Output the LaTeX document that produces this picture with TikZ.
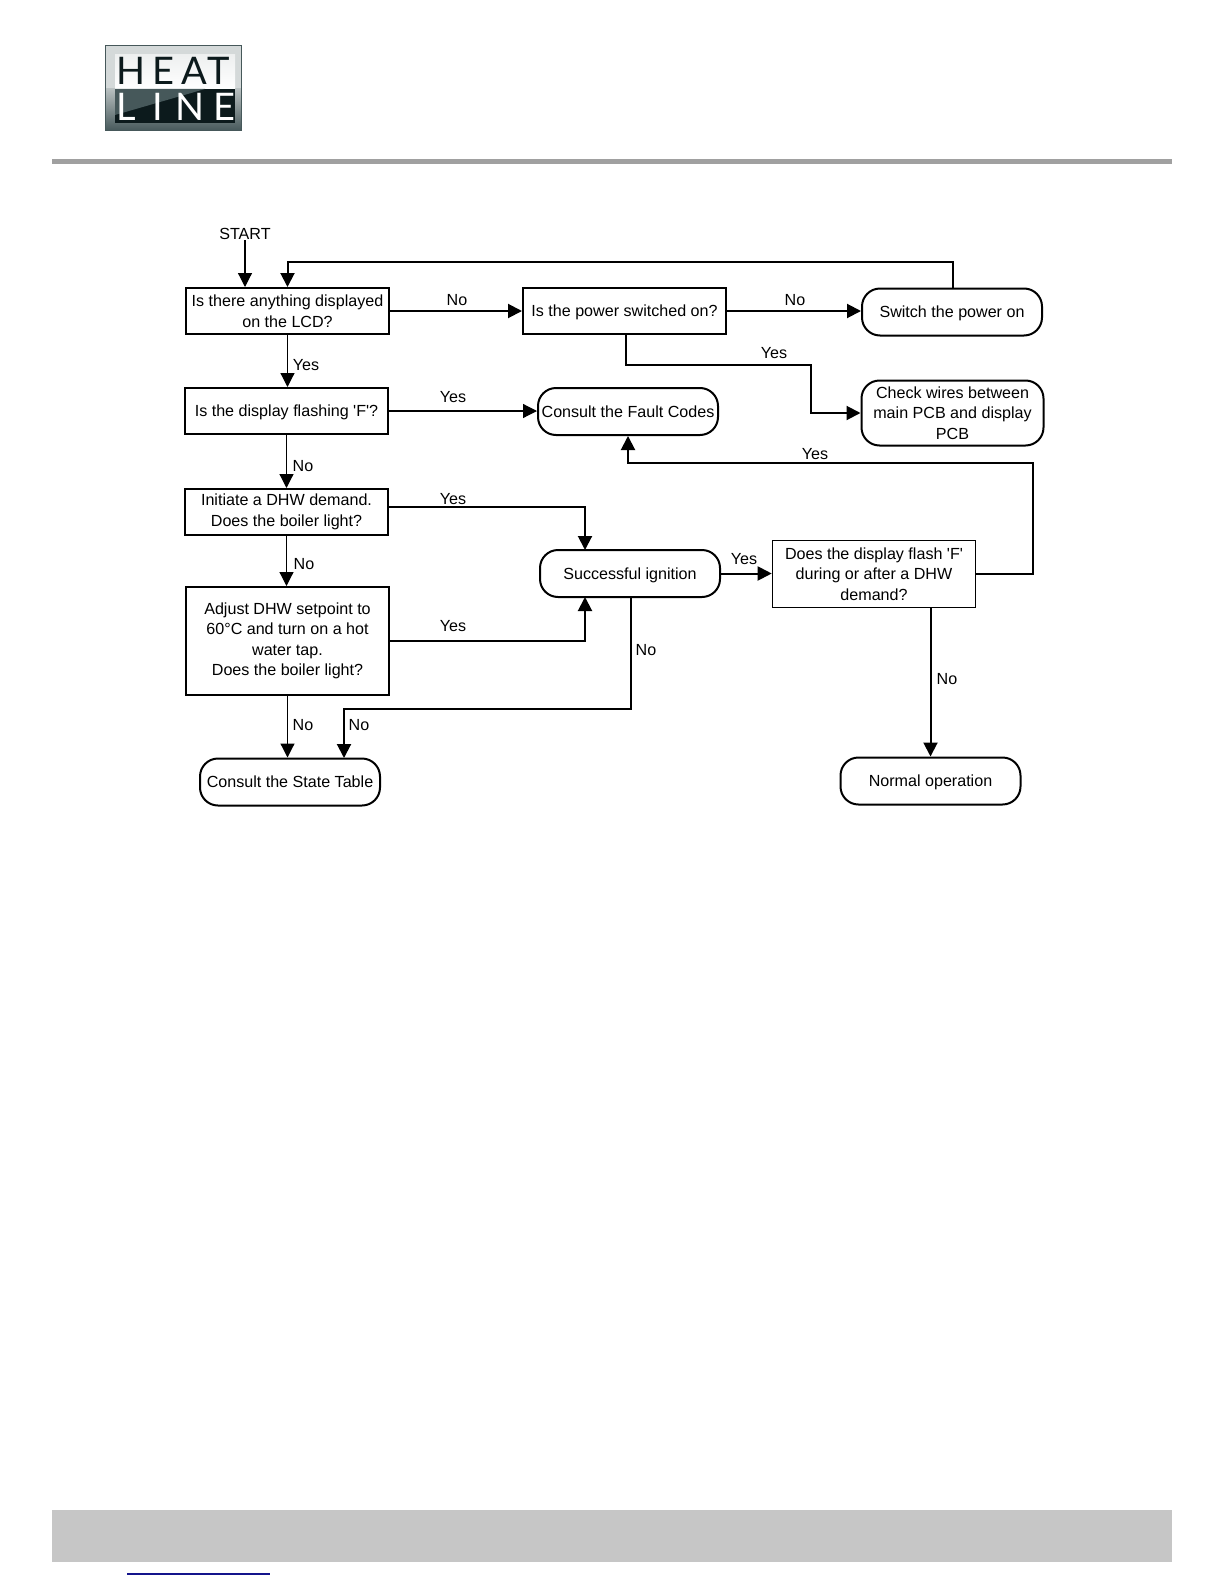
\documentclass[tikz,border=0pt]{standalone}
\usepackage{fontspec}
\setmainfont{Liberation Sans}
\newfontfamily\logofont{Lato}
\usetikzlibrary{positioning,arrows.meta,calc}
\definecolor{rule}{HTML}{A0A0A0}
\definecolor{band}{HTML}{C6C6C6}
\definecolor{link}{HTML}{14148C}
\definecolor{logodark}{HTML}{0C1A1C}
\definecolor{logosilver}{HTML}{D4D9D9}
\definecolor{logoslate}{HTML}{46585A}
\tikzset{
  flowtext/.style={font=\fontsize{8.05}{10.25}\selectfont,align=center,inner sep=0pt},
  qbox/.style={flowtext,draw,line width=1pt,minimum width=101.5pt,minimum height=23pt},
  endbox/.style={flowtext,draw,line width=1pt,rounded corners=9pt,minimum width=90pt,minimum height=23.5pt},
  oneline/.style={text height=7pt,text depth=1.2pt},
  tag/.style={flowtext},
  thinflow/.style={line width=.6pt,-{Triangle[length=7pt,width=7pt]}},
  thickflow/.style={line width=1pt,-{Triangle[length=7pt,width=7pt]}},
  logotext/.style={font=\logofont\fontsize{19}{19}\selectfont,inner sep=0pt}
}
\begin{document}
\begin{tikzpicture}[x=.5pt,y=-.5pt]
  \useasboundingbox (0,0) rectangle (1224,1584);
  \fill[white] (0,0) rectangle (1224,1584);
  \fill[rule] (52,158.5) rectangle (1172,163.5);
  \fill[band] (52,1510) rectangle (1172,1562);
  \fill[link] (127,1573) rectangle (270,1575);

  \fill[top color=logosilver,bottom color=logosilver] (105,46) rectangle (241,89);
  \fill[top color=logosilver!80!logoslate,bottom color=logoslate] (105,89) rectangle (241,131);
  \draw[logoslate,line width=.5pt] (105,46) rectangle (241,131);
  \fill[top color=logosilver!40,bottom color=white] (115,55) rectangle (235,89);
  \fill[logodark] (115,89) rectangle (235,123);
  \fill[logoslate] (115,89) -- (205,89) -- (115,115) -- cycle;
  \foreach \letter/\xpos/\ypos [count=\i] in {H/131/71,E/163/71,A/194/71,T/219/71,L/126/107,I/158/107,N/190/107,E/224/107}{
    \ifnum\i<5
      \node[logotext,text=logodark] (logo\i) at (\xpos,\ypos) {\letter};
    \else
      \node[logotext,text=white] (logo\i) at (\xpos,\ypos) {\letter};
    \fi
  }

  \node[tag] (startlabel) at (245,234) {START};
  \node[qbox] (lcd) at (287.5,311) {Is there anything displayed\\on the LCD?};
  \node[qbox,oneline] (flash) at (286.5,411) {Is the display flashing \textquotesingle F\textquotesingle?};
  \node[qbox] (demand) at (286.5,512) {Initiate a DHW demand.\\Does the boiler light?};
  \node[qbox,minimum height=54pt] (adjust) at (287.5,641) {Adjust DHW setpoint to\\60°C and turn on a hot\\water tap.\\Does the boiler light?};
  \node[endbox,oneline] (state) at (290,782) {Consult the State Table};
  \node[qbox,oneline] (power) at (624.5,311) {Is the power switched on?};
  \node[endbox,oneline] (switch) at (952,312) {Switch the power on};
  \node[endbox,minimum width=91pt,minimum height=32.5pt] (wires) at (952.5,413) {Check wires between\\main PCB and display\\PCB};
  \node[endbox,oneline] (fault) at (628,411.5) {Consult the Fault Codes};
  \node[endbox,oneline] (success) at (630,573.5) {Successful ignition};
  \node[qbox,line width=.8pt,minimum height=33.5pt] (flashq) at (874,574) {Does the display flash \textquotesingle F\textquotesingle\\during or after a DHW\\demand?};
  \node[endbox,oneline] (normal) at (930.5,781) {Normal operation};

  \coordinate (loopstart) at (953,289);
  \coordinate (loopbend) at (953,262);
  \coordinate (powerout) at (626,334);
  \coordinate (powerbend) at (811,365);
  \coordinate (faultbend) at (1033,463);
  \coordinate (demandout) at (388,507);
  \coordinate (successtop) at (585,550);
  \coordinate (successlow) at (585,597);
  \coordinate (successout) at (631,597);
  \coordinate (statebend) at (344,709);
  \coordinate (statetop) at (344,758);

  \draw[thinflow] (startlabel.south) -- (startlabel.south |- lcd.north);
  \draw[thickflow] (loopstart) |- (loopbend) -| (lcd.north);
  \draw[thickflow] (lcd.east) -- (lcd.east -| power.west);
  \draw[thickflow] (power.east) -- (power.east -| switch.west);
  \draw[thickflow] (powerout) |- (powerbend) |- (wires.west);
  \draw[thinflow] (lcd.south) -- (lcd.south |- flash.north);
  \draw[thinflow] (flash.east) -- (flash.east -| fault.west);
  \draw[thinflow] (flash.south) -- (flash.south |- demand.north);
  \draw[thinflow] (demand.south) -- (demand.south |- adjust.north);
  \draw[thickflow] (demandout) -| (successtop);
  \draw[thickflow] (adjust.east) -| (successlow);
  \draw[thinflow] (adjust.south) -- (adjust.south |- state.north);
  \draw[thickflow] (successout) |- (statebend) -- (statetop);
  \draw[thickflow] (success.east) -- (success.east -| flashq.west);
  \draw[thickflow] (flashq.east) -| (faultbend) -| (fault.south);
  \draw[thickflow] (normal.north |- flashq.south) -- (normal.north);

  \node[tag] (lcdno) at (457,300) {No};
  \node[tag] (powerno) at (795,300) {No};
  \node[tag] (lcdyes) at (306,365) {Yes};
  \node[tag] (flashyes) at (453,397) {Yes};
  \node[tag] (poweryes) at (774,353) {Yes};
  \node[tag] (flashno) at (303,466) {No};
  \node[tag] (retryyes) at (815,454) {Yes};
  \node[tag] (demandyes) at (453,499) {Yes};
  \node[tag] (demandno) at (304,564) {No};
  \node[tag] (ignityes) at (744,559) {Yes};
  \node[tag] (adjustyes) at (453,626) {Yes};
  \node[tag] (ignitno) at (646,650) {No};
  \node[tag] (normalno) at (947,679) {No};
  \node[tag] (adjustno) at (303,725) {No};
  \node[tag] (stateno) at (359,725) {No};
\end{tikzpicture}
\end{document}
